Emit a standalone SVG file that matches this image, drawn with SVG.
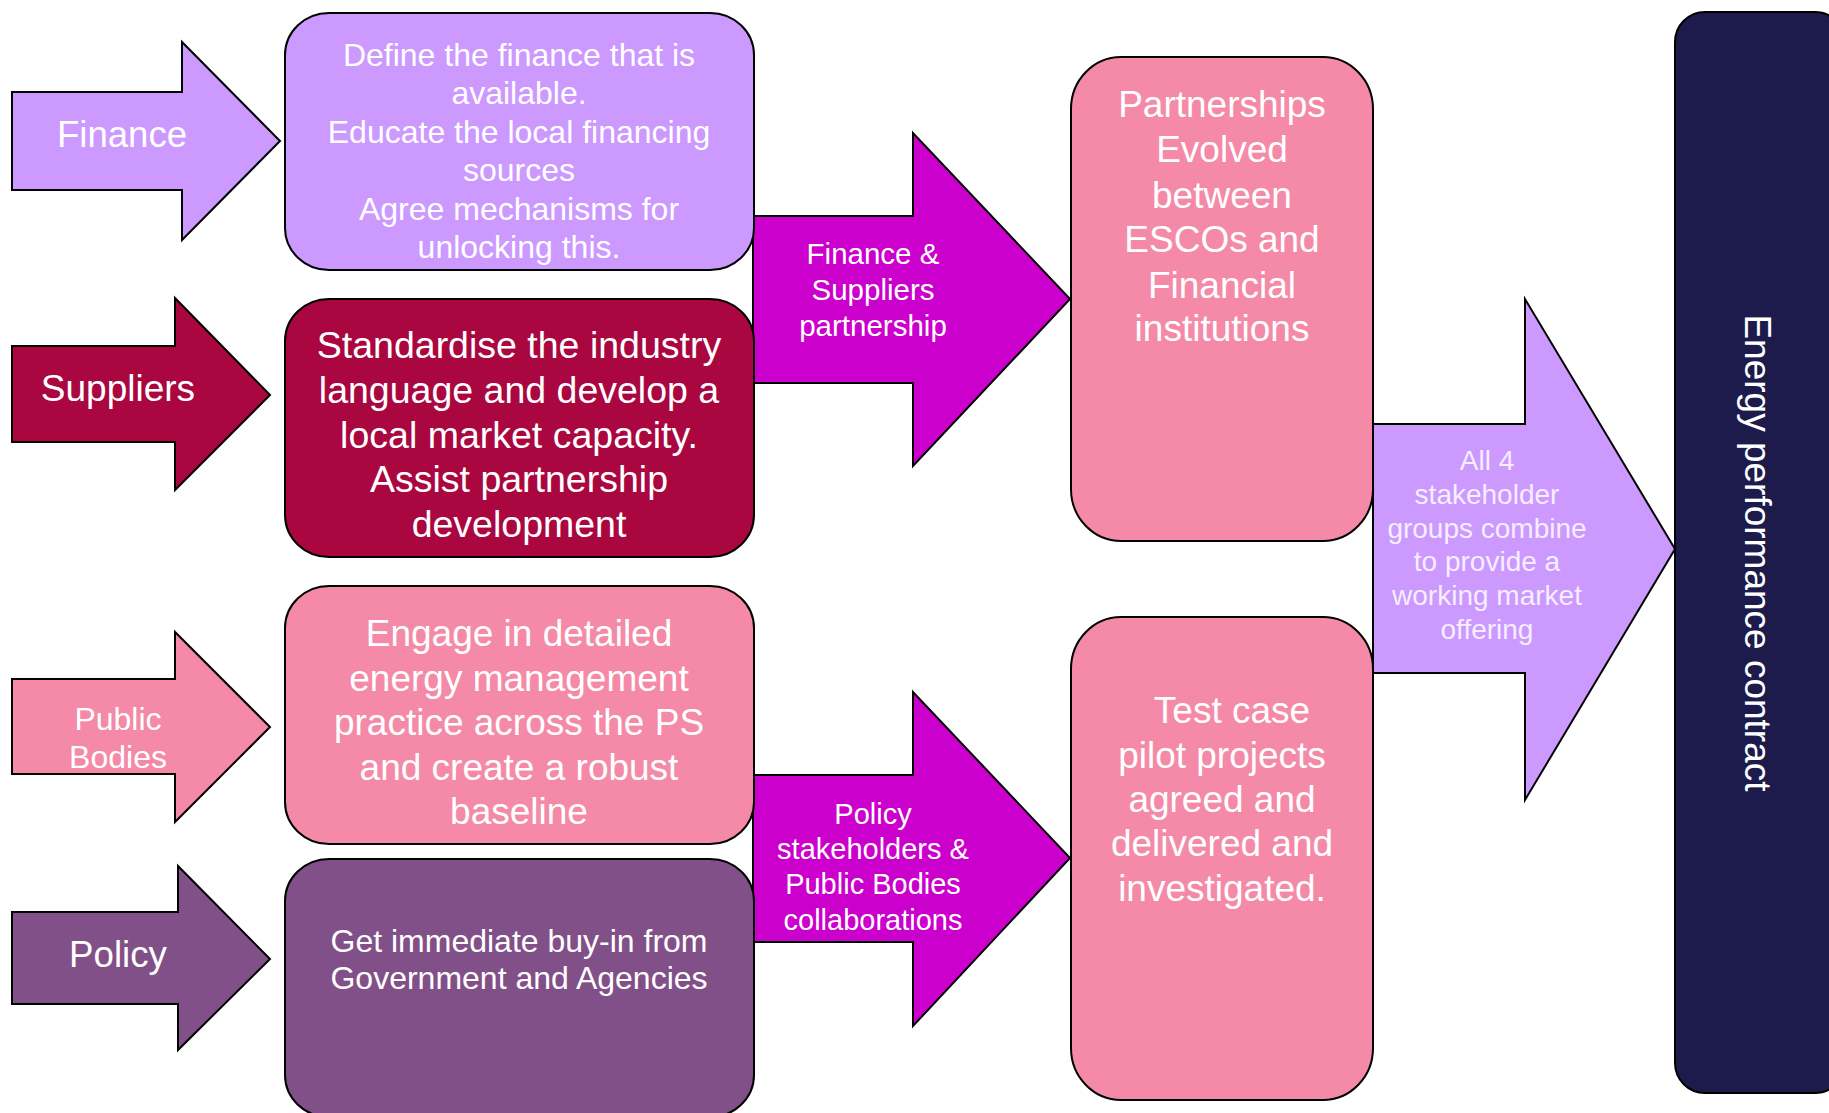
<svg xmlns="http://www.w3.org/2000/svg" width="1829" height="1113" viewBox="0 0 1829 1113">
<style>
  .lbl { font-family: "Liberation Sans", Arial, sans-serif; fill: #FFFFFF; text-anchor: middle; }
  .ol { stroke: #000000; stroke-width: 2; stroke-linejoin: miter; }
  .lav { fill: #CC99FF; }
  .crim { fill: #AA063F; }
  .pink { fill: #F48AA8; }
  .plum { fill: #825088; }
  .mag { fill: #CC00CC; }
  .navy { fill: #1C1B4B; }
</style>
<rect x="0" y="0" width="1829" height="1113" fill="#FFFFFF"/>

<g id="connectors">
  <g id="arrow-fin-sup">
    <polygon class="ol mag" points="753,216 913,216 913,133 1070,299 913,466 913,383 753,383"/>
    <text class="lbl" font-size="29.5"><tspan x="873" y="264">Finance &amp;</tspan><tspan x="873" y="300">Suppliers</tspan><tspan x="873" y="336">partnership</tspan></text>
  </g>
  <g id="arrow-pol-pub">
    <polygon class="ol mag" points="753,775 913,775 913,692 1070,858 913,1026 913,942 753,942"/>
    <text class="lbl" font-size="29"><tspan x="873" y="824">Policy</tspan><tspan x="873" y="859">stakeholders &amp;</tspan><tspan x="873" y="894">Public Bodies</tspan><tspan x="873" y="930">collaborations</tspan></text>
  </g>
  <g id="arrow-all4">
    <polygon class="ol lav" points="1373,424 1525,424 1525,299 1675,549 1525,800 1525,673 1373,673"/>
    <text class="lbl" font-size="28" style="fill:#F6EEFF"><tspan x="1487" y="470">All 4</tspan><tspan x="1487" y="504">stakeholder</tspan><tspan x="1487" y="538">groups combine</tspan><tspan x="1487" y="571">to provide a</tspan><tspan x="1487" y="605">working market</tspan><tspan x="1487" y="639">offering</tspan></text>
  </g>
</g>

<g id="finance-arrow">
  <polygon class="ol lav" points="12,92 182,92 182,42 280,141 182,240 182,190 12,190"/>
  <text class="lbl" font-size="36.6" x="122" y="147">Finance</text>
</g>
<g id="suppliers-arrow">
  <polygon class="ol crim" points="12,346 175,346 175,298 270,395 175,490 175,442 12,442"/>
  <text class="lbl" font-size="37" x="118" y="401">Suppliers</text>
</g>
<g id="public-arrow">
  <polygon class="ol pink" points="12,679 175,679 175,632 270,727 175,822 175,774 12,774"/>
  <text class="lbl" font-size="32"><tspan x="118" y="730">Public</tspan><tspan x="118" y="768">Bodies</tspan></text>
</g>
<g id="policy-arrow">
  <polygon class="ol plum" points="12,912 178,912 178,866 270,959 178,1050 178,1004 12,1004"/>
  <text class="lbl" font-size="36.7" x="118" y="967">Policy</text>
</g>

<g id="finance-box">
  <rect class="ol lav" x="285" y="13" width="469" height="257" rx="44" ry="42"/>
  <text class="lbl" font-size="32"><tspan x="519" y="66">Define the finance that is</tspan><tspan x="519" y="104">available.</tspan><tspan x="519" y="143">Educate the local financing</tspan><tspan x="519" y="181">sources</tspan><tspan x="519" y="220">Agree mechanisms for</tspan><tspan x="519" y="258">unlocking this.</tspan></text>
</g>
<g id="suppliers-box">
  <rect class="ol crim" x="285" y="299" width="469" height="258" rx="44" ry="42"/>
  <text class="lbl" font-size="37.5"><tspan x="519" y="358">Standardise the industry</tspan><tspan x="519" y="403">language and develop a</tspan><tspan x="519" y="448">local market capacity.</tspan><tspan x="519" y="492">Assist partnership</tspan><tspan x="519" y="537">development</tspan></text>
</g>
<g id="public-box">
  <rect class="ol pink" x="285" y="586" width="469" height="258" rx="44" ry="42"/>
  <text class="lbl" font-size="37"><tspan x="519" y="646">Engage in detailed</tspan><tspan x="519" y="691">energy management</tspan><tspan x="519" y="735">practice across the PS</tspan><tspan x="519" y="780">and create a robust</tspan><tspan x="519" y="824">baseline</tspan></text>
</g>
<g id="policy-box">
  <rect class="ol plum" x="285" y="859" width="469" height="258" rx="44" ry="42"/>
  <text class="lbl" font-size="32"><tspan x="519" y="952">Get immediate buy-in from</tspan><tspan x="519" y="989">Government and Agencies</tspan></text>
</g>

<g id="partnerships-box">
  <rect class="ol pink" x="1071" y="57" width="302" height="484" rx="50" ry="52"/>
  <text class="lbl" font-size="37"><tspan x="1222" y="117">Partnerships</tspan><tspan x="1222" y="162">Evolved</tspan><tspan x="1222" y="208">between</tspan><tspan x="1222" y="252">ESCOs and</tspan><tspan x="1222" y="298">Financial</tspan><tspan x="1222" y="341">institutions</tspan></text>
</g>
<g id="testcase-box">
  <rect class="ol pink" x="1071" y="617" width="302" height="483" rx="50" ry="52"/>
  <text class="lbl" font-size="37"><tspan x="1232" y="723">Test case</tspan><tspan x="1222" y="768">pilot projects</tspan><tspan x="1222" y="812">agreed and</tspan><tspan x="1222" y="856">delivered and</tspan><tspan x="1222" y="901">investigated.</tspan></text>
</g>

<g id="energy-box">
  <rect class="ol navy" x="1675" y="12" width="170" height="1081" rx="30" ry="30"/>
  <text class="lbl" font-size="37" transform="translate(1757,553) rotate(90)" x="0" y="12">Energy performance contract</text>
</g>
</svg>
